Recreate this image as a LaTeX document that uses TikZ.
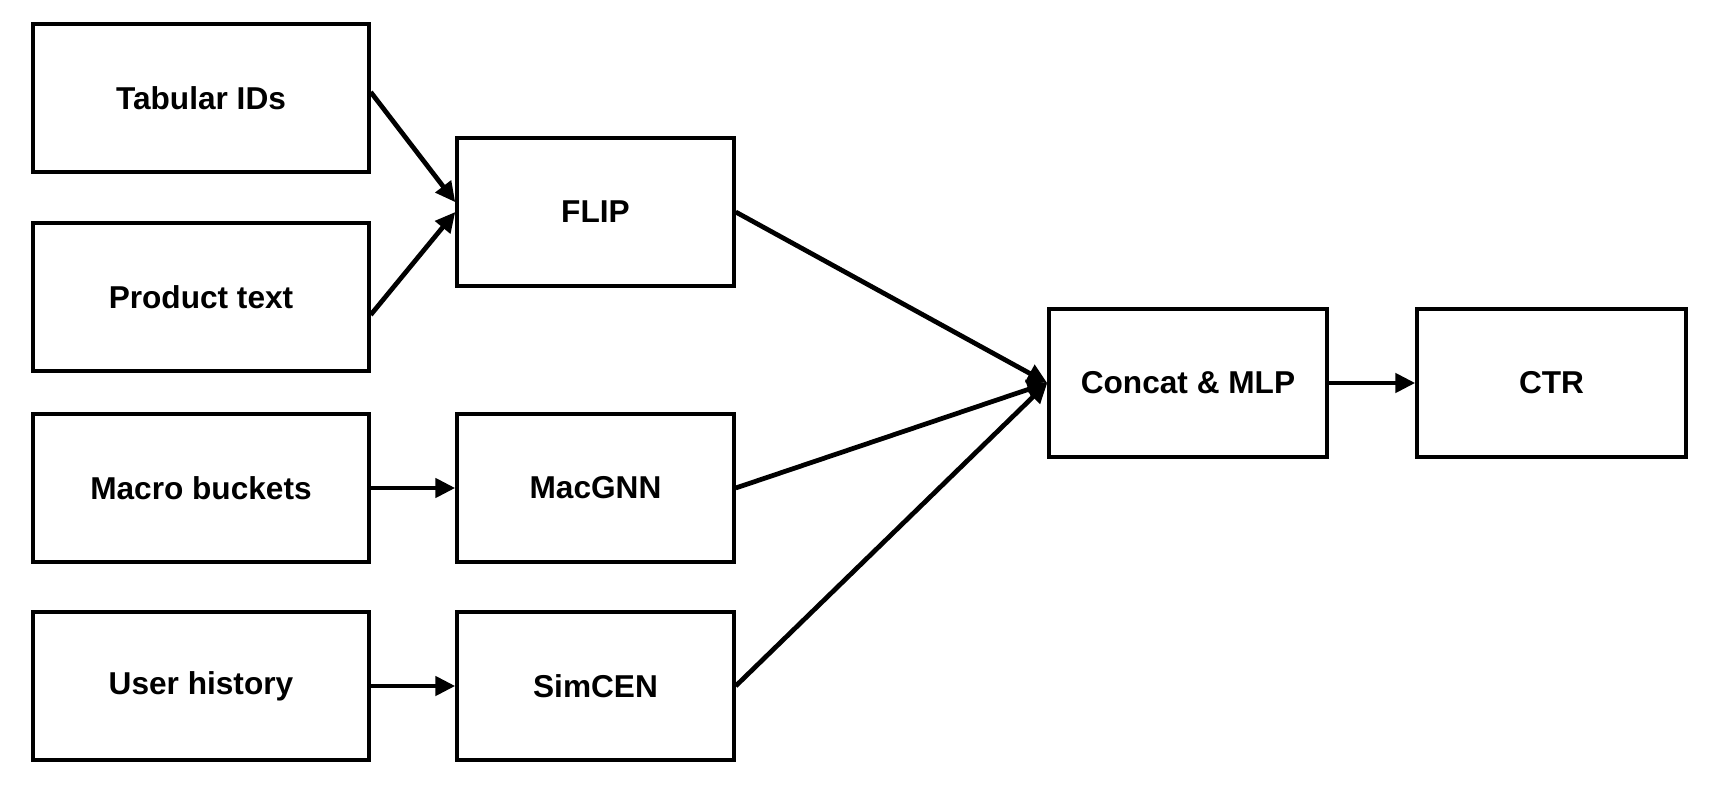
\documentclass[tikz,border=0pt]{standalone}
\usepackage{fontspec}
\setmainfont{Liberation Sans}
\usetikzlibrary{arrows.meta,positioning}

\begin{document}
\begin{tikzpicture}[x=0.02cm,y=-0.02cm,
    blk/.style={draw,line width=2pt,minimum height=2.96cm,inner sep=0pt,
      font=\fontsize{18}{21}\selectfont\bfseries},
    wide/.style={blk,minimum width=6.72cm},
    mid/.style={blk,minimum width=5.54cm},
    arr/.style={line width=2.7pt,-{Triangle[length=0.4cm,width=0.38cm]}}]
    \useasboundingbox (0,0) rectangle (1721,790);

    % inputs
    \node[wide] (tab) at (201,98) {Tabular IDs};
    \node[wide] (prod) at (201,297) {Product text};
    \node[wide] (macro) at (201,488) {Macro buckets};
    \node[wide] (user) at (201,686) {User history};

    % encoders
    \node[mid] (flip) at (595.5,212) {FLIP};
    \node[mid] (macgnn) at (595.5,488) {MacGNN};
    \node[mid] (simcen) at (595.5,686) {SimCEN};

    \node[mid,minimum width=5.56cm] (mlp) at (1188,383) {Concat \& MLP};
    \node[blk,minimum width=5.38cm] (ctr) at (1551.5,383) {CTR};

    \draw[arr] (tab.2) -- (flip.176);
    \draw[arr] (prod.-6) -- (flip.west);
    \draw[arr] (macro) -- (macgnn);
    \draw[arr] (user) -- (simcen);

    \draw[arr] (flip.east) -- (mlp.west);
    \draw[arr] (macgnn.east) -- (mlp.west);
    \draw[arr] (simcen.east) -- (mlp.west);
    \draw[arr] (mlp) -- (ctr);
  \end{tikzpicture}
\end{document}
